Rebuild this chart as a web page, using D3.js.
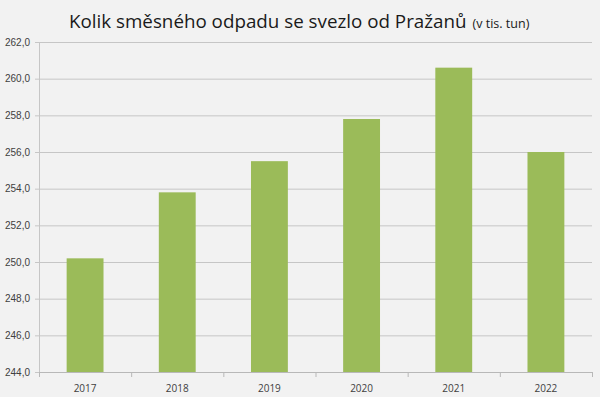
<!DOCTYPE html>
<html>
<head>
<meta charset="utf-8">
<script src="https://cdn.jsdelivr.net/npm/d3@7"></script>
<style>
  html, body { margin: 0; padding: 0; background: #f2f2f2; }
  svg { display: block; font-family: "Open Sans", sans-serif; }
</style>
</head>
<body>
<div id="chart"></div>
<script>
const years = ['2017', '2018', '2019', '2020', '2021', '2022'];
const tons = [250.2, 253.8, 255.5, 257.8, 260.6, 256.0];
const yTicks = [244, 246, 248, 250, 252, 254, 256, 258, 260, 262];

const w = 600;
const h = 397;
const margin = { top: 42, right: 8, bottom: 25, left: 39 };

const svg = d3.select('#chart')
  .append('svg')
  .attr('width', w)
  .attr('height', h);

svg.append('rect')
  .attr('width', w)
  .attr('height', h)
  .attr('fill', '#f2f2f2');

const x = d3.scaleBand()
  .domain(years)
  .range([margin.left, w - margin.right])
  .paddingInner(0.6)
  .paddingOuter(0.3);

const y = d3.scaleLinear()
  .domain([244, 262])
  .range([h - margin.bottom, margin.top]);

const fmt = v => d3.format('.1f')(v).replace('.', ',');

// gridlines + y labels
const yAxis = svg.append('g')
  .attr('transform', `translate(${margin.left},0)`)
  .call(d3.axisLeft(y).tickValues(yTicks).tickFormat(fmt)
    .tickSize(-(w - margin.left - margin.right)).tickPadding(9));
yAxis.select('.domain').remove();
yAxis.selectAll('.tick line').attr('stroke', '#c6c6c6');
yAxis.selectAll('.tick text')
  .attr('fill', '#404040')
  .attr('font-size', 10);

// small left ticks
svg.append('g')
  .selectAll('line')
  .data(yTicks)
  .enter().append('line')
  .attr('x1', margin.left - 4)
  .attr('x2', margin.left)
  .attr('y1', d => y(d) + 0.5)
  .attr('y2', d => y(d) + 0.5)
  .attr('stroke', '#c6c6c6');

// bars
svg.append('g')
  .selectAll('rect')
  .data(years)
  .enter().append('rect')
  .attr('x', d => x(d))
  .attr('width', x.bandwidth())
  .attr('y', (d, i) => y(tons[i]))
  .attr('height', (d, i) => y(244) - y(tons[i]))
  .attr('fill', '#9bbb59');

// left axis line
svg.append('line')
  .attr('x1', margin.left + 0.5)
  .attr('x2', margin.left + 0.5)
  .attr('y1', y(262))
  .attr('y2', y(244))
  .attr('stroke', '#c6c6c6');

// bottom axis
const bounds = d3.range(years.length + 1).map(i => margin.left + i * (w - margin.left - margin.right) / years.length);
const xAxis = svg.append('g')
  .attr('transform', `translate(0,${y(244)})`);
xAxis.append('line')
  .attr('x1', margin.left)
  .attr('x2', w - margin.right)
  .attr('y1', 0.5)
  .attr('y2', 0.5)
  .attr('stroke', '#b8b8b8');
xAxis.selectAll('line.tk')
  .data(bounds)
  .enter().append('line')
  .attr('class', 'tk')
  .attr('x1', d => d + 0.5)
  .attr('x2', d => d + 0.5)
  .attr('y1', 0)
  .attr('y2', 5)
  .attr('stroke', '#b8b8b8');
xAxis.selectAll('text')
  .data(years)
  .enter().append('text')
  .attr('x', d => x(d) + x.bandwidth() / 2)
  .attr('y', 20)
  .attr('text-anchor', 'middle')
  .attr('font-size', 10)
  .attr('fill', '#404040')
  .text(d => d);

// title
const title = svg.append('text')
  .attr('x', 69)
  .attr('y', 28)
  .attr('fill', '#1a1a1a');
title.append('tspan')
  .attr('font-size', 18.8)
  .text('Kolik směsného odpadu se svezlo od Pražanů');
title.append('tspan')
  .attr('font-size', 12.5)
  .attr('dx', 6)
  .text('(v tis. tun)');
</script>
</body>
</html>
